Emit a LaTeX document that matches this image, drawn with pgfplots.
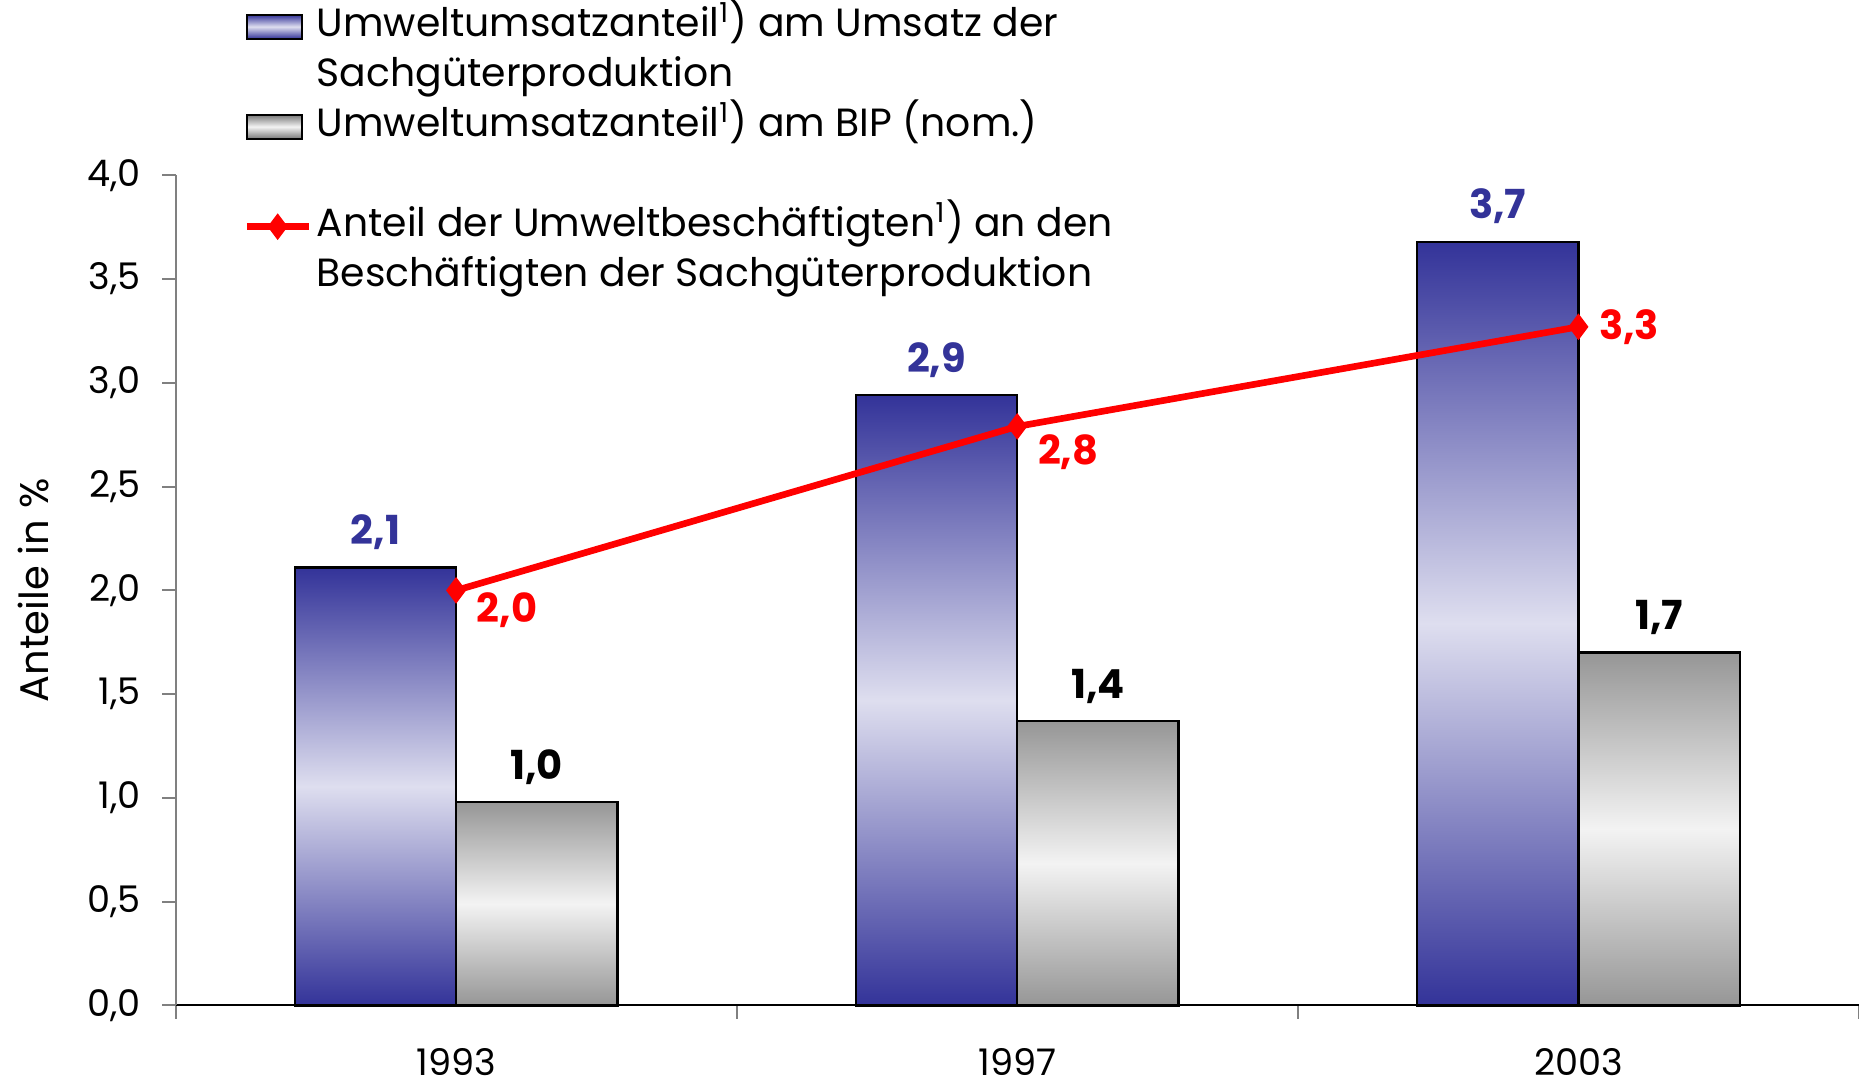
\documentclass[border=0pt]{standalone}
\usepackage{fontspec}
\setmainfont{Poppins}
\usepackage{pgfplots}
\pgfplotsset{compat=1.18}
\definecolor{bdark}{RGB}{51,51,153}
\definecolor{blight}{RGB}{222,222,239}
\definecolor{gdark}{RGB}{150,150,150}
\definecolor{glight}{RGB}{243,243,243}
\definecolor{lred}{RGB}{255,0,0}
\pgfplotsset{
  bluebox/.style={legend image code/.code={\draw[draw=black, line width=0.6pt, top color=bdark, bottom color=bdark, middle color=blight] (0pt,-3.6pt) rectangle (16.4pt,3.6pt);}},
  greybox/.style={legend image code/.code={\draw[draw=black, line width=0.6pt, top color=gdark!80!black, bottom color=gdark!80!black, middle color=glight] (0pt,-3.6pt) rectangle (16.4pt,3.6pt);}},
  redline/.style={legend image code/.code={\draw[##1, mark repeat=2, mark phase=2] plot coordinates {(0pt,0pt) (9.25pt,0pt) (18.5pt,0pt)};}},
  bluebar/.style={ybar, bar width=48.4pt, bar shift=-24.2pt, draw=black, line width=0.7pt,
    top color=bdark, bottom color=bdark, middle color=blight, bluebox,
    nodes near coords,
    nodes near coords style={font=\fontsize{12}{14}\selectfont\bfseries, text=bdark, anchor=south, inner sep=2pt, yshift=3pt, xshift=-24.2pt}},
  greybar/.style={ybar, bar width=48.4pt, bar shift=24.2pt, draw=black, line width=0.7pt,
    top color=gdark, bottom color=gdark, middle color=glight, greybox,
    nodes near coords,
    nodes near coords style={font=\fontsize{12}{14}\selectfont\bfseries, text=black, anchor=south, inner sep=2pt, yshift=3pt, xshift=24.2pt}},
}
\begin{document}
\begin{tikzpicture}
\begin{axis}[
  at={(0,0)}, anchor=south west,
  width=505pt, height=249pt, scale only axis,
  font=\fontsize{11}{13}\selectfont,
  xmin=-0.5, xmax=2.5, ymin=0, ymax=4,
  clip=false,
  axis x line*=bottom, axis y line*=left,
  x axis line style={black, line width=0.6pt},
  y axis line style={gray, line width=0.6pt},
  xtick={-0.5,0.5,1.5,2.5},
  x tick label as interval,
  xticklabels={1993,1997,2003},
  xtick style={gray, line width=0.6pt},
  ytick={0,0.5,1,1.5,2,2.5,3,3.5,4},
  ytick style={gray, line width=0.6pt},
  major tick length=4pt,
  tick align=outside,
  xticklabel style={yshift=-5.5pt},
  yticklabel style={xshift=-3pt},
  ylabel={Anteile in \%},
  ylabel style={at={(axis description cs:-0.0846,0.5)}, anchor=center, font=\fontsize{12}{14}\selectfont},
  /pgf/number format/fixed,
  /pgf/number format/fixed zerofill,
  /pgf/number format/precision=1,
  /pgf/number format/use comma,
  /pgf/number format/assume math mode=true,
  legend cell align=left,
  legend style={at={(axis description cs:0.040,1.210)}, anchor=north west,
    draw=none, fill=none, inner sep=0pt, row sep=0pt, column sep=0pt,
    font=\fontsize{11.8}{13}\selectfont,
    nodes={inner sep=1.5pt, text height=9pt, text depth=3pt}},
]
\addplot[bluebar] coordinates {(0,2.11)};
\addlegendentry{Umweltumsatzanteil\textsuperscript{1}) am Umsatz der}
\addlegendimage{empty legend}
\addlegendentry{Sachgüterproduktion}
\addplot[greybar] coordinates {(0,0.98)};
\addlegendentry{Umweltumsatzanteil\textsuperscript{1}) am BIP (nom.)}
\addlegendimage{empty legend}
\addlegendentry{}
\addplot[bluebar, forget plot] coordinates {(1,2.94)};
\addplot[bluebar, forget plot] coordinates {(2,3.68)};
\addplot[greybar, forget plot] coordinates {(1,1.37)};
\addplot[greybar, forget plot] coordinates {(2,1.70)};
\addplot[lred, line width=2pt, mark=diamond*, mark size=3.6pt, mark options={solid, fill=lred, line width=0.5pt}, redline,
  nodes near coords,
  visualization depends on={\thisrow{dy}\as\mydy},
  nodes near coords style={font=\fontsize{12}{14}\selectfont\bfseries, text=lred, anchor=west, inner sep=2pt, xshift=4pt, yshift=\mydy pt}]
  table[x=x, y=y] {
x y dy
0 2.00 -6
1 2.79 -7.8
2 3.27 0
};
\addlegendentry{Anteil der Umweltbeschäftigten\textsuperscript{1}) an den}
\addlegendimage{empty legend}
\addlegendentry{Beschäftigten der Sachgüterproduktion}
\end{axis}
\pgfresetboundingbox
\path[use as bounding box] (-52.65pt,-24.5pt) rectangle (505pt,301.6pt);
\end{tikzpicture}
\end{document}
